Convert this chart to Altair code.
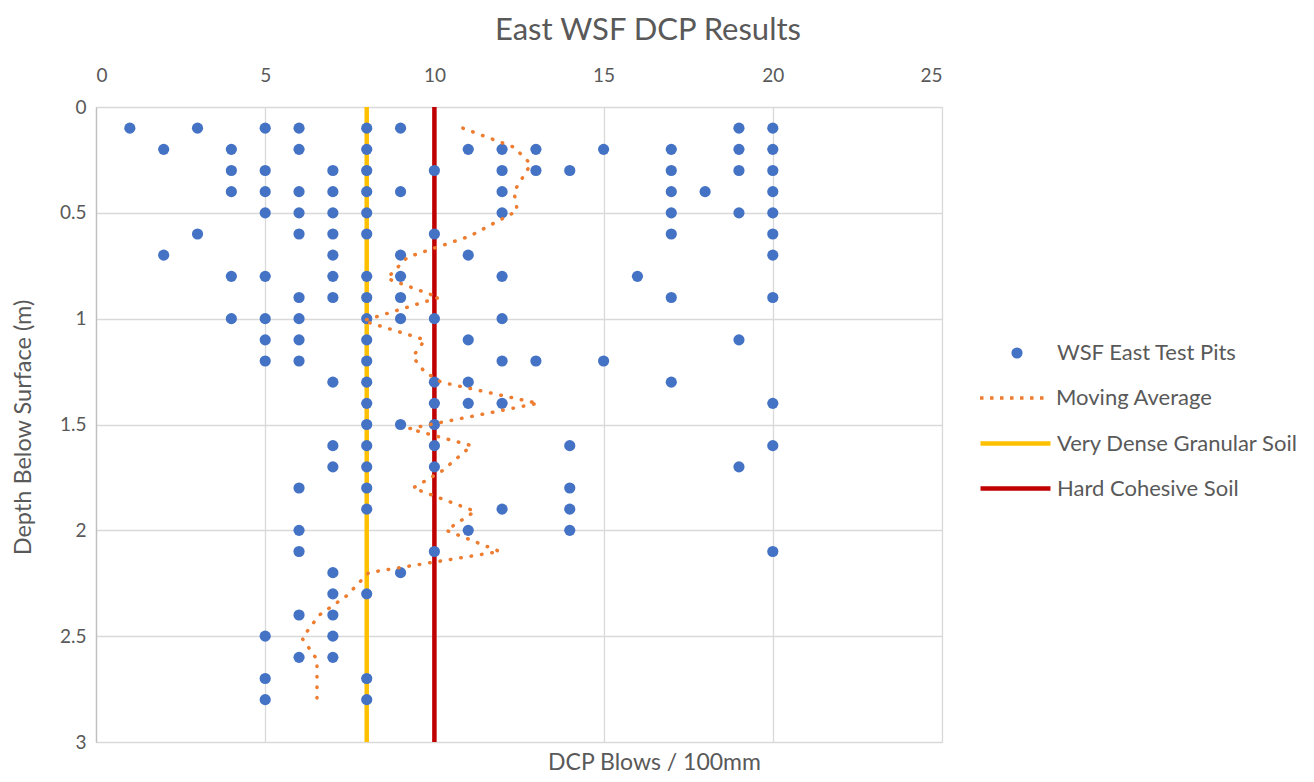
import altair as alt
import pandas as pd

# ---- data ----
pit_depths = [0.1, 0.2, 0.3, 0.4, 0.5, 0.6, 0.7, 0.8, 0.9, 1.0,
              1.1, 1.2, 1.3, 1.4, 1.5, 1.6, 1.7, 1.8, 1.9, 2.0,
              2.1, 2.2, 2.3, 2.4, 2.5, 2.6, 2.7, 2.8]
pit_blows = [
    [1, 3, 5, 6, 8, 9, 19, 20],
    [2, 4, 6, 8, 11, 12, 13, 15, 17, 19, 20],
    [4, 5, 7, 8, 10, 12, 13, 14, 17, 19, 20],
    [4, 5, 6, 7, 8, 9, 12, 17, 18, 20],
    [5, 6, 7, 8, 12, 17, 19, 20],
    [3, 6, 7, 8, 10, 17, 20],
    [2, 7, 9, 11, 20],
    [4, 5, 7, 8, 9, 12, 16],
    [6, 7, 8, 9, 17, 20],
    [4, 5, 6, 8, 9, 10, 12],
    [5, 6, 8, 11, 19],
    [5, 6, 8, 12, 13, 15],
    [7, 8, 10, 11, 17],
    [8, 10, 11, 12, 20],
    [8, 9, 10],
    [7, 8, 10, 14, 20],
    [7, 8, 10, 19],
    [6, 8, 14],
    [8, 12, 14],
    [6, 11, 14],
    [6, 10, 20],
    [7, 9],
    [7, 8],
    [6, 7],
    [5, 7],
    [6, 7],
    [5, 8],
    [5, 8],
]

ma_blows = [10.84, 12.35, 12.85, 12.35, 12.45, 11.05, 9.2, 8.6, 10.13, 7.9,
            9.72, 9.36, 9.7, 10.2, 13.06, 9.25, 11.1, 10.22, 9.37, 11.2,
            10.35, 11.93, 8.06, 7.4, 6.6, 6.09, 6.53, 6.53]
ma_depths = [0.10, 0.19, 0.27, 0.40, 0.49, 0.61, 0.71, 0.81, 0.90, 1.01,
             1.10, 1.18, 1.25, 1.30, 1.40, 1.52, 1.60, 1.72, 1.80, 1.91,
             2.00, 2.10, 2.20, 2.31, 2.40, 2.51, 2.61, 2.80]

soil_names = ["Very Dense Granular Soil", "Hard Cohesive Soil"]
soil_blows = [8, 10]
soil_colors = ["#FFC000", "#C00000"]

x_ticks = [0, 5, 10, 15, 20, 25]
y_ticks = [0, 0.5, 1, 1.5, 2, 2.5, 3]

# ---- tables ----
rows = []
for d, bl in zip(pit_depths, pit_blows):
    for b in bl:
        rows.append({"blows": b, "depth": d, "pits": "WSF East Test Pits"})
pits = pd.DataFrame(rows)
ma = pd.DataFrame({"blows": ma_blows, "depth": ma_depths,
                   "order": list(range(len(ma_blows))),
                   "trend": ["Moving Average"] * len(ma_blows)})
granular = pd.DataFrame({"blows": [soil_blows[0]], "soil": [soil_names[0]]})
cohesive = pd.DataFrame({"blows": [soil_blows[1]], "soil": [soil_names[1]]})

FONT = "Lato"
TXT = "#595959"
GRID = "#D9D9D9"

x_scale = alt.Scale(domain=[0, 25], nice=False)
y_scale = alt.Scale(domain=[0, 3], nice=False, reverse=True)

top_axis = alt.Axis(orient="top", values=x_ticks, title=None, grid=True,
                    gridColor=GRID, gridWidth=1.3, ticks=False, domain=False,
                    labelPadding=22, labelFontSize=19, labelColor=TXT, labelFont=FONT)
bottom_axis = alt.Axis(orient="bottom", labels=False, ticks=False, domain=False,
                       grid=False, title="DCP Blows / 100mm", titleFont=FONT,
                       titleFontSize=23, titleColor=TXT, titleFontWeight="normal",
                       titleX=558, titleY=27, titleAlign="center",
                       titleBaseline="alphabetic")
y_axis = alt.Axis(values=y_ticks, format=".1~f", grid=True, gridColor=GRID,
                  gridWidth=1.3, ticks=False, domain=True, domainColor="#BFBFBF",
                  domainWidth=1.3, labelPadding=10, labelFontSize=19,
                  labelColor=TXT, labelFont=FONT,
                  title="Depth Below Surface (m)", titleFont=FONT, titleFontSize=23.5,
                  titleColor=TXT, titleFontWeight="normal", titleX=-66,
                  titleY=320, titleAlign="center", titleBaseline="alphabetic")

legend_common = dict(title=None, orient="none", labelFontSize=22, labelFont=FONT,
                     labelColor=TXT, labelLimit=400)
line_legend = dict(symbolType="stroke", symbolSize=4900, labelOffset=4, legendX=882)

yellow_rule = alt.Chart(granular).mark_rule(strokeWidth=4.5).encode(
    x=alt.X("blows:Q", scale=x_scale, axis=bottom_axis),
    color=alt.Color("soil:N",
                    scale=alt.Scale(domain=[soil_names[0]], range=[soil_colors[0]]),
                    legend=alt.Legend(legendY=299, symbolStrokeWidth=4.5,
                                      **line_legend, **legend_common)),
)

red_rule = alt.Chart(cohesive).mark_rule(strokeWidth=4.5, color=soil_colors[1]).encode(
    x=alt.X("blows:Q", scale=x_scale, axis=None),
    strokeDash=alt.StrokeDash("soil:N",
                              scale=alt.Scale(domain=[soil_names[1]], range=[[1, 0]]),
                              legend=alt.Legend(legendY=344, symbolStrokeWidth=4.5,
                                                symbolStrokeColor=soil_colors[1],
                                                **line_legend, **legend_common)),
)

points = alt.Chart(pits).mark_point(filled=True, size=125, opacity=1,
                                    color="#4472C4").encode(
    x=alt.X("blows:Q", scale=x_scale, axis=top_axis),
    y=alt.Y("depth:Q", scale=y_scale, axis=y_axis),
    shape=alt.Shape("pits:N",
                    scale=alt.Scale(domain=["WSF East Test Pits"], range=["circle"]),
                    legend=alt.Legend(legendX=910, legendY=235, labelOffset=29,
                                      symbolSize=125, symbolFillColor="#4472C4",
                                      symbolStrokeWidth=0, **legend_common)),
)

trend = alt.Chart(ma).mark_line(color="#ED7D31", strokeWidth=3.5,
                                strokeDash=[0.5, 10], strokeCap="round").encode(
    x=alt.X("blows:Q", scale=x_scale, axis=None),
    y=alt.Y("depth:Q", scale=y_scale, axis=y_axis),
    order="order:Q",
    opacity=alt.Opacity("trend:N",
                        scale=alt.Scale(domain=["Moving Average"], range=[1]),
                        legend=alt.Legend(legendY=254, symbolStrokeWidth=3.5,
                                          symbolDash=[3.5, 6.5],
                                          symbolStrokeColor="#ED7D31",
                                          **line_legend, **legend_common)),
)

chart = alt.layer(yellow_rule, red_rule, points, trend).resolve_axis(
    x="independent").properties(
    width=846, height=635,
    autosize=alt.AutoSizeParams(type="none"),
    padding={"left": 88, "top": 99, "right": 360, "bottom": 32},
    title=alt.TitleParams("East WSF DCP Results", font=FONT, fontSize=31,
                          color=TXT, fontWeight="normal", anchor="middle",
                          frame="group", dx=129, offset=19),
).configure_view(stroke=GRID, strokeWidth=1.3).configure(background="white")

chart.save("out.html", embed_options={"renderer": "svg", "actions": False})
